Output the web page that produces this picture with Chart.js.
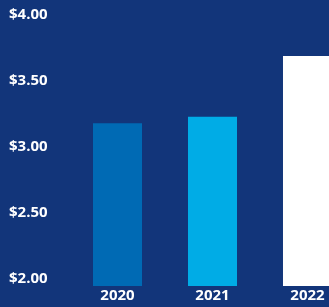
<!DOCTYPE html>
<html>
<head>
<meta charset="utf-8">
<script src="https://cdn.jsdelivr.net/npm/chart.js@4/dist/chart.umd.min.js"></script>
<style>
    html, body {
        margin: 0;
        padding: 0;
        background: #12357a;
        overflow: hidden;
    }
    #wrap {
        position: relative;
        width: 360px;
        height: 307px;
    }
</style>
</head>
<body>
<div id="wrap"><canvas id="chart"></canvas></div>
<script>
    var years = ['2020', '2021', '2022'];
    var values = [3.18, 3.23, 3.69];
    var barColors = ['#006ab4', '#00ace6', '#ffffff'];
    var tickValues = [2.00, 2.50, 3.00, 3.50, 4.00];

    var labelFont = {
        family: '"Open Sans", "Noto Sans", sans-serif',
        size: 15,
        weight: 'bold'
    };

    var ctx = document.getElementById('chart').getContext('2d');
    var epsChart = new Chart(ctx, {
        type: 'bar',
        data: {
            labels: years,
            datasets: [{
                data: values,
                backgroundColor: barColors,
                borderWidth: 0,
                categoryPercentage: 1,
                barPercentage: 0.516
            }]
        },
        options: {
            responsive: true,
            maintainAspectRatio: false,
            animation: false,
            layout: {
                padding: {left: 9, right: 5, top: 15, bottom: 1}
            },
            plugins: {
                legend: {display: false},
                tooltip: {enabled: false}
            },
            scales: {
                x: {
                    grid: {display: false, drawTicks: false},
                    border: {display: false},
                    ticks: {
                        color: '#ffffff',
                        font: labelFont,
                        padding: 1
                    }
                },
                y: {
                    min: 1.947,
                    max: 4.0,
                    grid: {display: false, drawTicks: false},
                    border: {display: false},
                    afterBuildTicks: function(scale) {
                        scale.ticks = tickValues.map(function(v) {
                            return {value: v};
                        });
                    },
                    afterFit: function(scale) {
                        scale.width = 61;
                    },
                    ticks: {
                        color: '#ffffff',
                        font: labelFont,
                        crossAlign: 'far',
                        padding: 0,
                        callback: function(v) {
                            return '$' + Number(v).toFixed(2);
                        }
                    }
                }
            }
        }
    });
</script>
</body>
</html>
